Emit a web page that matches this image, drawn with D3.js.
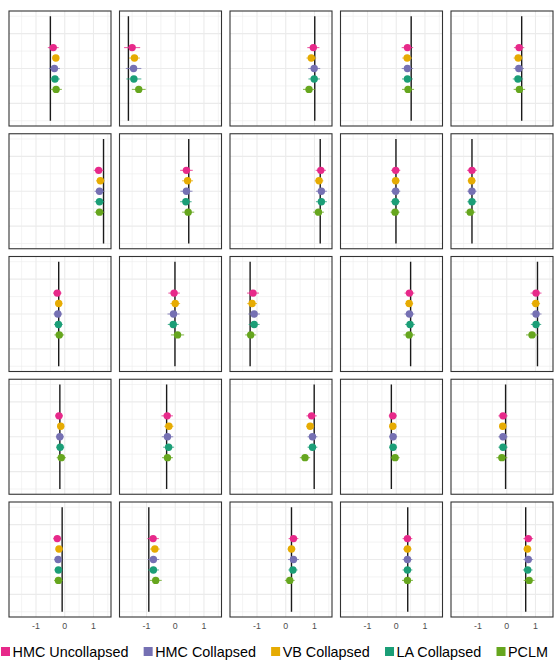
<!DOCTYPE html>
<html>
<head>
<meta charset="utf-8">
<script src="https://cdn.jsdelivr.net/npm/d3@7"></script>
<style>
  body { margin: 0; background: #fff; }
  text { font-family: "Liberation Sans", Arial, sans-serif; }
</style>
</head>
<body>
<div id="chart"></div>
<script>
// true parameter value per panel (row by row)
const truth = [
  -0.50, -1.63, 1.01, 0.52, 0.52,
  1.35, 0.47, 1.20, -0.01, -1.21,
  -0.21, -0.01, -1.24, 0.50, 1.07,
  -0.17, -0.30, 0.99, -0.17, -0.04,
  -0.09, -0.92, 0.20, 0.40, 0.66
];

// posterior means per method
const hmcUncollapsed = [
  -0.40, -1.50, 0.96, 0.39, 0.43,
  1.18, 0.39, 1.22, -0.02, -1.21,
  -0.26, -0.04, -1.14, 0.46, 1.02,
  -0.20, -0.28, 0.90, -0.12, -0.13,
  -0.26, -0.77, 0.27, 0.39, 0.75
];
const hmcCollapsed = [
  -0.36, -1.45, 0.99, 0.39, 0.42,
  1.21, 0.39, 1.24, -0.02, -1.21,
  -0.24, -0.06, -1.10, 0.46, 1.02,
  -0.17, -0.27, 0.93, -0.11, -0.13,
  -0.23, -0.76, 0.27, 0.39, 0.75
];
const vbCollapsed = [
  -0.31, -1.42, 0.89, 0.38, 0.40,
  1.24, 0.43, 1.16, -0.02, -1.22,
  -0.21, 0.00, -1.17, 0.45, 1.01,
  -0.14, -0.22, 0.85, -0.12, -0.14,
  -0.20, -0.71, 0.20, 0.39, 0.72
];
const laCollapsed = [
  -0.34, -1.44, 0.99, 0.39, 0.39,
  1.21, 0.37, 1.24, -0.03, -1.21,
  -0.22, -0.07, -1.10, 0.48, 1.02,
  -0.16, -0.23, 0.93, -0.11, -0.13,
  -0.22, -0.76, 0.25, 0.39, 0.73
];
const pclm = [
  -0.30, -1.27, 0.81, 0.41, 0.44,
  1.21, 0.45, 1.14, -0.04, -1.27,
  -0.19, 0.08, -1.22, 0.45, 0.88,
  -0.12, -0.27, 0.67, -0.04, -0.17,
  -0.22, -0.68, 0.14, 0.39, 0.78
];

// half widths of the intervals
const hmcUncollapsedErr = [
  0.19, 0.28, 0.21, 0.20, 0.18,
  0.17, 0.22, 0.18, 0.16, 0.17,
  0.15, 0.20, 0.21, 0.17, 0.19,
  0.14, 0.20, 0.18, 0.14, 0.16,
  0.14, 0.20, 0.17, 0.17, 0.17
];
const hmcCollapsedErr = [
  0.19, 0.27, 0.21, 0.20, 0.18,
  0.17, 0.21, 0.19, 0.16, 0.16,
  0.15, 0.21, 0.20, 0.17, 0.19,
  0.14, 0.20, 0.17, 0.14, 0.16,
  0.14, 0.20, 0.19, 0.17, 0.17
];
const vbCollapsedErr = [
  0.12, 0.19, 0.17, 0.17, 0.16,
  0.15, 0.19, 0.15, 0.14, 0.14,
  0.13, 0.17, 0.17, 0.14, 0.15,
  0.12, 0.16, 0.14, 0.12, 0.13,
  0.13, 0.17, 0.14, 0.15, 0.14
];
const laCollapsedErr = [
  0.17, 0.26, 0.20, 0.19, 0.18,
  0.17, 0.20, 0.19, 0.16, 0.16,
  0.15, 0.19, 0.19, 0.17, 0.18,
  0.14, 0.19, 0.17, 0.14, 0.16,
  0.14, 0.19, 0.16, 0.17, 0.17
];
const pclmErr = [
  0.20, 0.24, 0.21, 0.21, 0.20,
  0.17, 0.21, 0.19, 0.16, 0.18,
  0.17, 0.23, 0.19, 0.20, 0.21,
  0.16, 0.19, 0.18, 0.16, 0.19,
  0.15, 0.21, 0.17, 0.19, 0.19
];

const legendOrder = ["HMC Uncollapsed", "HMC Collapsed", "VB Collapsed", "LA Collapsed", "PCLM"];
const stackOrder = ["HMC Uncollapsed", "VB Collapsed", "HMC Collapsed", "LA Collapsed", "PCLM"];
const colors = ["#E7298A", "#7570B3", "#E6AB02", "#1B9E77", "#66A61E"];
const xTicks = [-1, 0, 1];

const series = {
  "HMC Uncollapsed": [hmcUncollapsed, hmcUncollapsedErr],
  "HMC Collapsed": [hmcCollapsed, hmcCollapsedErr],
  "VB Collapsed": [vbCollapsed, vbCollapsedErr],
  "LA Collapsed": [laCollapsed, laCollapsedErr],
  "PCLM": [pclm, pclmErr]
};

const width = 554, height = 672;
const nCols = 5, nRows = 5;
const panelW = 102, panelH = 115;
const left0 = 9, top0 = 11;
const stepX = 110.5, stepY = 122.75;

const color = d3.scaleOrdinal().domain(legendOrder).range(colors);

const x = d3.scaleLinear().domain([-1.94, 1.61]).range([0, panelW]);
const y = d3.scaleLinear().domain([-1.65, 1.65]).range([panelH, 0]);
const yPos = d3.scalePoint().domain(stackOrder).range([0.6, -0.6]);

const svg = d3.select("#chart")
  .append("svg")
  .attr("width", width)
  .attr("height", height);

const gridX = d3.range(-1.5, 1.51, 0.5);
const gridY = d3.range(-1.5, 1.51, 0.5);

truth.forEach((t, i) => {
  const r = Math.floor(i / nCols), c = i % nCols;
  const g = svg.append("g")
    .attr("transform", `translate(${left0 + c * stepX},${top0 + r * stepY})`);

  g.selectAll(".gx").data(gridX).enter().append("line")
    .attr("x1", d => x(d)).attr("x2", d => x(d))
    .attr("y1", 0).attr("y2", panelH)
    .attr("stroke", "#ebebeb")
    .attr("stroke-width", d => Number.isInteger(d) ? 1.1 : 0.6);

  g.selectAll(".gy").data(gridY).enter().append("line")
    .attr("y1", d => y(d)).attr("y2", d => y(d))
    .attr("x1", 0).attr("x2", panelW)
    .attr("stroke", "#ebebeb")
    .attr("stroke-width", d => Number.isInteger(d) ? 1.1 : 0.6);

  g.append("line")
    .attr("x1", x(t)).attr("x2", x(t))
    .attr("y1", y(1.5)).attr("y2", y(-1.5))
    .attr("stroke", "#1a1a1a")
    .attr("stroke-width", 1.4);

  const pts = legendOrder.map(m => ({
    m: m,
    v: series[m][0][i],
    e: series[m][1][i]
  }));

  g.selectAll(".err").data(pts).enter().append("line")
    .attr("x1", d => x(d.v - d.e)).attr("x2", d => x(d.v + d.e))
    .attr("y1", d => y(yPos(d.m))).attr("y2", d => y(yPos(d.m)))
    .attr("stroke", d => color(d.m))
    .attr("stroke-opacity", 0.75)
    .attr("stroke-width", 1.1);

  g.selectAll(".pt").data(pts).enter().append("circle")
    .attr("cx", d => x(d.v))
    .attr("cy", d => y(yPos(d.m)))
    .attr("r", 3.7)
    .attr("fill", d => color(d.m));

  g.append("rect")
    .attr("width", panelW).attr("height", panelH)
    .attr("fill", "none")
    .attr("stroke", "#333333")
    .attr("stroke-width", 1.1);

  if (r === nRows - 1) {
    g.selectAll(".tick").data(xTicks).enter().append("text")
      .attr("x", d => x(d))
      .attr("y", panelH + 12)
      .attr("text-anchor", "middle")
      .attr("font-size", 8.8)
      .attr("fill", "#4d4d4d")
      .text(d => d);
  }
});

// legend: fit between x=1 and x=548
const legend = svg.append("g").attr("transform", "translate(1,656.5)");
const keySize = 9, keyPad = 2.5;
let fontSize = 14.4;
const items = legendOrder.map(m => {
  const item = legend.append("g");
  item.append("rect")
    .attr("x", 0).attr("y", -9.5)
    .attr("width", keySize).attr("height", keySize)
    .attr("fill", color(m));
  const txt = item.append("text")
    .attr("x", keySize + keyPad).attr("y", 0)
    .attr("font-size", fontSize)
    .attr("fill", "#000")
    .text(m);
  return { item, txt };
});
const firstW = items[0].txt.node().getComputedTextLength();
fontSize = fontSize * 116 / firstW;
items.forEach(d => d.txt.attr("font-size", fontSize));
const widths = items.map(d => keySize + keyPad + d.txt.node().getComputedTextLength());
const gap = (547 - d3.sum(widths)) / (items.length - 1);
let lx = 0;
items.forEach((d, k) => {
  d.item.attr("transform", `translate(${lx},0)`);
  lx += widths[k] + gap;
});
</script>
</body>
</html>
